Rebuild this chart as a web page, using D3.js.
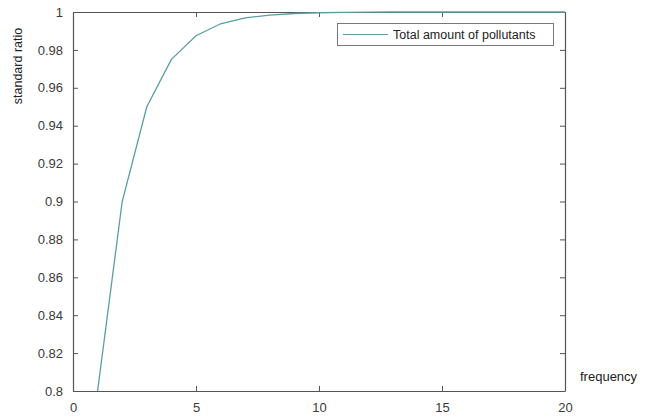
<!DOCTYPE html>
<html>
<head>
<meta charset="utf-8">
<script src="https://cdn.jsdelivr.net/npm/d3@7"></script>
<style>
  body { margin: 0; background: #fff; }
  svg { display: block; }
  text { font-family: "Liberation Sans", Arial, Helvetica, sans-serif; }
</style>
</head>
<body>
<svg id="chart" width="647" height="416"></svg>
<script>
const frequency = [1, 2, 3, 4, 5, 6, 7, 8, 9, 10, 11, 12, 13, 14, 15, 16, 17, 18, 19, 20];
const totalPollutants = [0.8, 0.9, 0.95, 0.975, 0.9875, 0.9938, 0.9969, 0.9984, 0.9992, 0.9996,
  0.9998, 0.9999, 1.0, 1.0, 1.0, 1.0, 1.0, 1.0, 1.0, 1.0];
const xTicks = [0, 5, 10, 15, 20];
const yTicks = [0.8, 0.82, 0.84, 0.86, 0.88, 0.9, 0.92, 0.94, 0.96, 0.98, 1];
const seriesName = "Total amount of pollutants";
const xLabel = "frequency";
const yLabel = "standard ratio";

const svg = d3.select("#chart");
const margin = { left: 73, top: 12, right: 82, bottom: 25 };
const W = 647, H = 416;
const x0 = margin.left, x1 = W - margin.right;  // 565
const y0 = H - margin.bottom, y1 = margin.top;   // 391
const axisColor = "#555";
const textColor = "#3a3a3a";

const x = d3.scaleLinear().domain([0, 20]).range([x0, x1]);
const y = d3.scaleLinear().domain([0.8, 1]).range([y0, y1]);

const tickLen = 5;

// bottom axis
const gx = svg.append("g").attr("transform", `translate(0,${y0})`)
  .call(d3.axisBottom(x).tickValues(xTicks).tickFormat(d3.format("d")).tickSizeInner(-tickLen).tickSizeOuter(0).tickPadding(10));
// top axis
const gxt = svg.append("g").attr("transform", `translate(0,${y1})`)
  .call(d3.axisTop(x).tickValues(xTicks).tickFormat("").tickSizeInner(-tickLen).tickSizeOuter(0));
// left axis
const gy = svg.append("g").attr("transform", `translate(${x0},0)`)
  .call(d3.axisLeft(y).tickValues(yTicks).tickFormat(d => d3.format("")(+d.toFixed(2))).tickSizeInner(-tickLen).tickSizeOuter(0).tickPadding(10));
// right axis
const gyr = svg.append("g").attr("transform", `translate(${x1},0)`)
  .call(d3.axisRight(y).tickValues(yTicks).tickFormat("").tickSizeInner(-tickLen).tickSizeOuter(0));

[gx, gxt, gy, gyr].forEach(g => {
  g.selectAll(".domain").attr("stroke", axisColor).attr("stroke-width", 1.2);
  g.selectAll(".tick line").attr("stroke", axisColor).attr("stroke-width", 1);
  g.selectAll(".tick text").attr("fill", textColor).attr("font-size", 13)
    .style("font-family", '"Liberation Sans", Arial, sans-serif');
});
gx.selectAll(".tick text").attr("dy", "0.85em");

// line
const line = d3.line().x((d, i) => x(frequency[i])).y(d => y(d));
svg.append("path")
  .datum(totalPollutants)
  .attr("fill", "none")
  .attr("stroke", "#5a9ea2")
  .attr("stroke-width", 1.3)
  .attr("d", line);

// axis labels
svg.append("text")
  .attr("x", 580).attr("y", 381)
  .attr("fill", "#222").attr("font-size", 13)
  .text(xLabel);

svg.append("text")
  .attr("transform", `translate(22,${(y1 + 120) / 2}) rotate(-90)`)
  .attr("text-anchor", "middle")
  .attr("fill", "#222").attr("font-size", 12.5)
  .text(yLabel);

// legend
const lg = svg.append("g");
lg.append("rect")
  .attr("x", 337.5).attr("y", 23.5).attr("width", 216).attr("height", 22)
  .attr("fill", "#fff").attr("stroke", "#777").attr("stroke-width", 1);
lg.append("line")
  .attr("x1", 343).attr("x2", 388).attr("y1", 34.5).attr("y2", 34.5)
  .attr("stroke", "#5a9ea2").attr("stroke-width", 1.2);
lg.append("text")
  .attr("x", 393).attr("y", 39)
  .attr("fill", "#222").attr("font-size", 12.5)
  .text(seriesName);
</script>
</body>
</html>
